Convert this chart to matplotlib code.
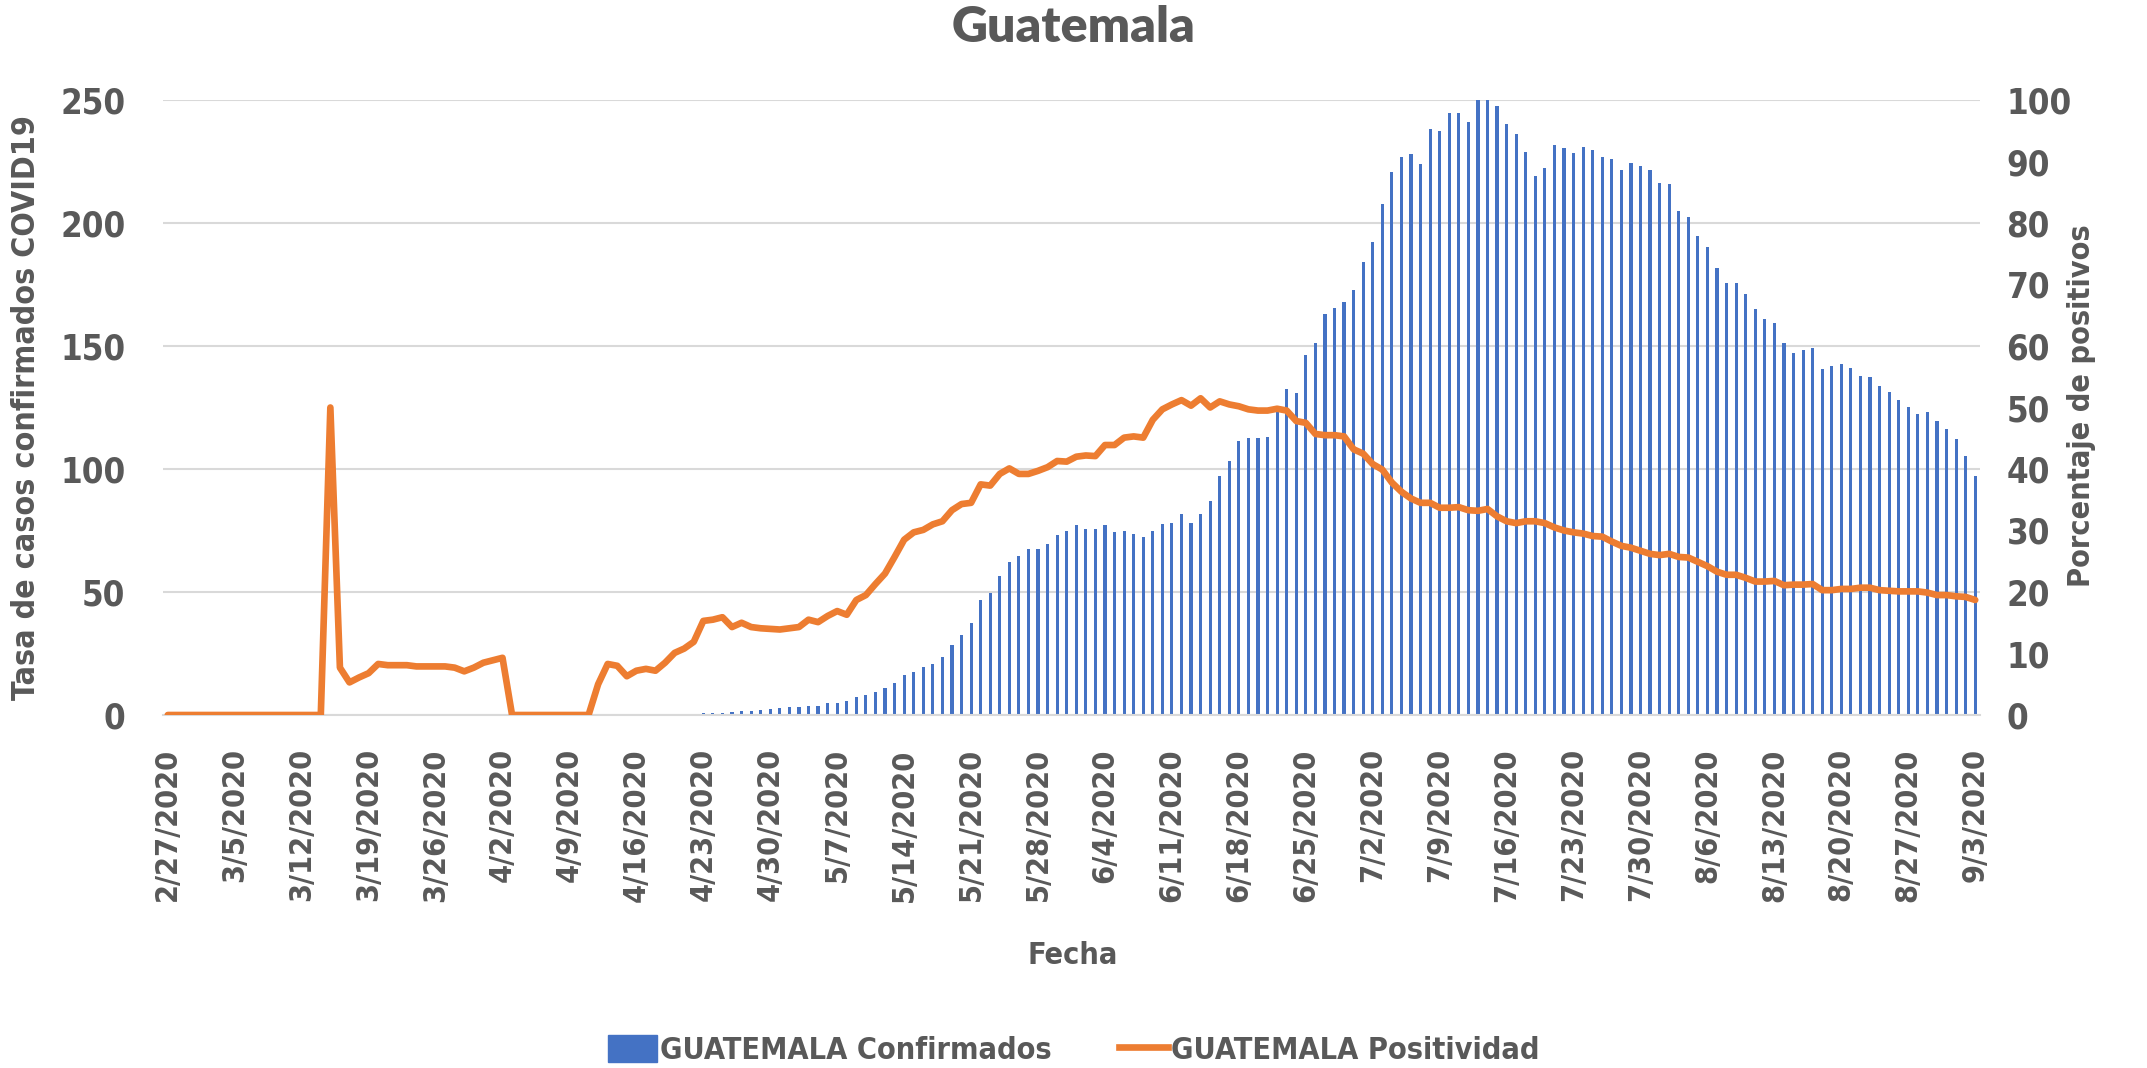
import matplotlib
matplotlib.use("Agg")
import matplotlib.pyplot as plt
import matplotlib.patches as mpatches
import matplotlib.lines as mlines
import numpy as np
import pandas as pd

# daily dates 2/27/2020 .. 9/3/2020
fechas = pd.date_range("2020-02-27", "2020-09-03", freq="D")
etiquetas = [f"{d.month}/{d.day}/{d.year}" for d in fechas]

# tasa de casos confirmados (eje izquierdo)
confirmados = (
    [0.0] * 49
    + [0.1, 0.1, 0.2, 0.2, 0.3, 0.4, 0.5, 0.7, 0.8, 1.0, 1.2, 1.5, 1.7, 2.0]
    + [2.5, 3.0, 3.3, 3.3, 3.8, 3.8, 4.7, 5.0, 5.5, 7.5, 8.0, 9.2, 10.9, 13.0,
       16.4, 17.5, 19.5, 20.9, 23.7, 28.4, 32.6, 37.2, 46.7, 49.7, 56.4, 62.1,
       64.8, 67.6, 67.6, 69.6, 73.0, 74.8]
    + [77.1, 75.6, 75.5, 77.1, 74.3, 74.8, 73.5, 72.3, 74.8, 77.6, 78.1, 81.8,
       78.1, 81.8, 86.8, 97.2, 103.2, 111.5, 112.7, 112.5, 113.2, 123.2, 132.4,
       130.7, 146.4, 151.4, 163.1, 165.3, 167.8, 172.8, 184.1, 192.3]
    + [207.8, 220.7, 227.0, 227.9, 224.0, 238.4, 237.4, 244.6, 244.9, 241.2,
       251.0, 253.0, 247.4, 240.4, 236.2, 229.0, 219.0, 222.5, 231.7, 230.4,
       228.4, 230.9, 229.5, 227.0, 225.9, 221.7, 224.5, 223.2, 221.5, 216.2,
       215.7, 204.8]
    + [202.5, 194.8, 190.3, 181.6, 175.8, 175.8, 171.0, 165.1, 161.1, 159.3,
       151.1, 147.2, 148.4, 149.1, 140.6, 141.7, 142.7, 140.9, 137.7, 137.2,
       133.9, 131.1, 127.9, 125.2, 122.4, 123.0, 119.5, 116.4, 112.0, 105.3,
       97.3]
)

# porcentaje de positividad (eje derecho)
positividad = (
    [0.0] * 17
    + [50.0, 7.7, 5.3, 6.1, 6.8, 8.3, 8.1, 8.1, 8.1, 7.9, 7.9, 7.9, 7.9, 7.7,
       7.1, 7.7, 8.5, 8.9, 9.3]
    + [0.0] * 9
    + [5.0, 8.3, 8.0, 6.3, 7.2, 7.5, 7.2, 8.5, 10.1, 10.8, 11.9, 15.3, 15.5,
       15.9, 14.3, 15.0, 14.3, 14.1, 14.0]
    + [13.9, 14.1, 14.3, 15.5, 15.1, 16.1, 16.9, 16.3, 18.7, 19.5, 21.3, 23.0,
       25.7, 28.5, 29.7, 30.1, 31.0, 31.5, 33.3, 34.3, 34.5, 37.5, 37.3, 39.2,
       40.1, 39.2, 39.2, 39.7, 40.3, 41.3, 41.2]
    + [42.0, 42.2, 42.1, 43.9, 43.9, 45.1, 45.3, 45.1, 48.0, 49.7, 50.5, 51.2,
       50.3, 51.5, 50.0, 51.0, 50.5, 50.2, 49.7, 49.5, 49.5, 49.8, 49.5, 47.8,
       47.5, 45.7, 45.5, 45.5, 45.3, 43.2, 42.5, 40.8]
    + [39.9, 37.8, 36.3, 35.2, 34.5, 34.5, 33.7, 33.7, 33.8, 33.3, 33.2, 33.5,
       32.3, 31.5, 31.2, 31.5, 31.5, 31.2, 30.5, 30.0, 29.7, 29.5, 29.1, 29.0,
       28.2, 27.5, 27.2, 26.7, 26.2, 26.0, 26.2, 25.7]
    + [25.6, 24.9, 24.2, 23.3, 22.8, 22.8, 22.3, 21.7, 21.7, 21.8, 21.1, 21.2,
       21.2, 21.3, 20.3, 20.3, 20.5, 20.5, 20.7, 20.7, 20.3, 20.2, 20.1, 20.1,
       20.1, 19.9, 19.5, 19.5, 19.3, 19.2, 18.7]
)

AZUL = "#4472C4"
NARANJA = "#ED7D31"
GRIS = "#595959"

plt.rcParams["font.family"] = ["DejaVu Sans"]
plt.rcParams["font.stretch"] = "condensed"
plt.rcParams["font.weight"] = "bold"

W, H = 2147, 1068
fig = plt.figure(figsize=(W / 100, H / 100), dpi=100)
x0, x1 = 163 / W, 1980 / W
y_top, y_bot = 100 / H, 715 / H
ax = fig.add_axes([x0, 1 - y_bot, x1 - x0, y_bot - y_top])
ax2 = ax.twinx()

x = np.arange(len(fechas))
ax.bar(x, confirmados, width=0.33, color=AZUL, zorder=2)
ax2.plot(x, positividad, color=NARANJA, lw=4.8, solid_joinstyle="round",
         solid_capstyle="round", zorder=3)

ax.set_xlim(-0.5, len(fechas) - 0.5)
ax.set_ylim(0, 250)
ax2.set_ylim(0, 100)
ax.set_yticks(range(0, 251, 50))
ax2.set_yticks(range(0, 101, 10))
ax.set_xticks(x[::7])
ax.set_xticklabels(etiquetas[::7], rotation=90)

ax.grid(axis="y", color="#D9D9D9", lw=1.5, zorder=0)
ax.set_axisbelow(True)
for a in (ax, ax2):
    for s in a.spines.values():
        s.set_visible(False)
ax.spines["bottom"].set_visible(True)
ax.spines["bottom"].set_color("#D9D9D9")
ax.spines["bottom"].set_linewidth(1.5)

ax.tick_params(axis="y", length=0, pad=27, labelsize=25, labelcolor=GRIS)
ax2.tick_params(axis="y", length=0, pad=19, labelsize=25, labelcolor=GRIS)
ax.tick_params(axis="x", length=0, pad=24, labelsize=22, labelcolor=GRIS)

fig.text(0.5, 1 - 27 / H, "Guatemala", ha="center", va="center",
         fontsize=36, color=GRIS, family=["Lato", "DejaVu Sans"],
         weight="heavy", stretch="normal")
fig.text(27 / W, 1 - 407 / H, "Tasa de casos confirmados COVID19", rotation=90,
         ha="center", va="center", fontsize=23, color=GRIS)
fig.text(2081 / W, 1 - 406 / H, "Porcentaje de positivos", rotation=90,
         ha="center", va="center", fontsize=22, color=GRIS)
fig.text(1073 / W, 1 - 955 / H, "Fecha", ha="center", va="center",
         fontsize=22, color=GRIS)

h1 = mpatches.Patch(color=AZUL, label="GUATEMALA Confirmados")
h2 = mlines.Line2D([], [], color=NARANJA, lw=4.8, label="GUATEMALA Positividad")
fig.legend(handles=[h1, h2], loc="center", bbox_to_anchor=(0.5, 1 - 1050 / H),
           ncol=2, frameon=False, fontsize=22, labelcolor=GRIS,
           handlelength=1.6, handleheight=1.0, handletextpad=0.1,
           columnspacing=2.2)

fig.savefig("out.png", dpi=100)
